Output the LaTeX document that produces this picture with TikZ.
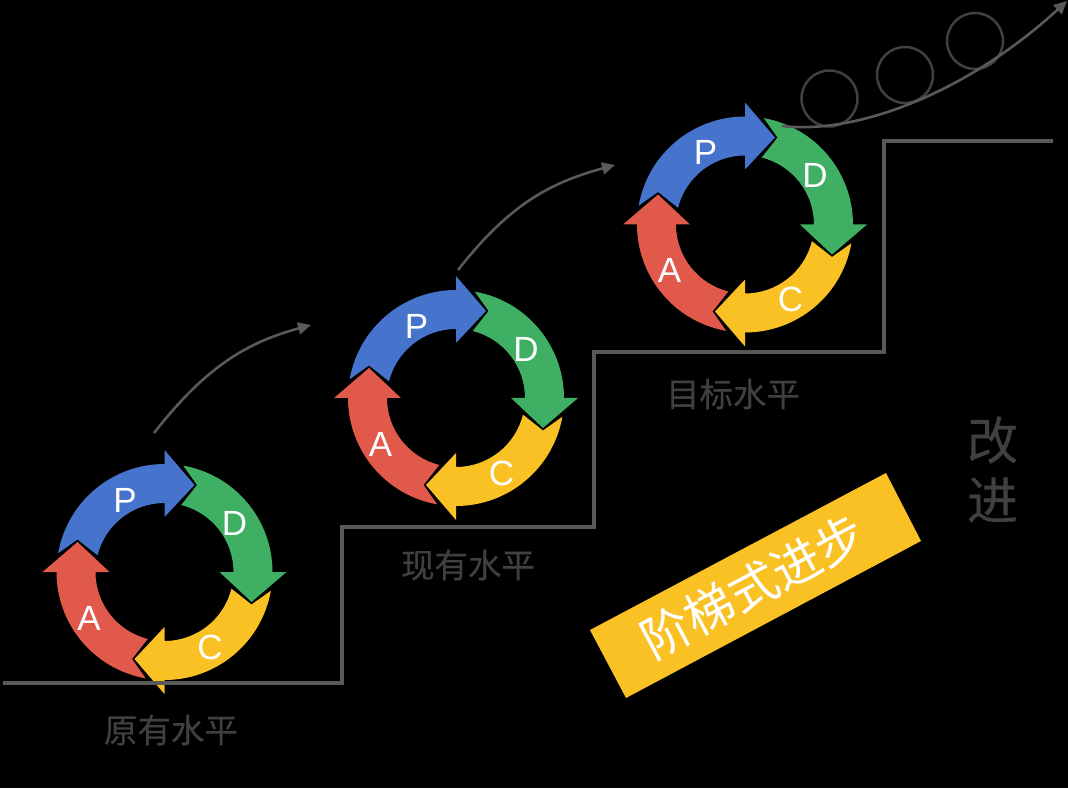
\documentclass[tikz,border=0pt]{standalone}
\usepackage{fontspec}
\setmainfont{Liberation Sans}
\newfontfamily\cjk{Noto Sans CJK SC}
\newfontfamily\cjkb[FakeBold=0.3]{Noto Sans CJK SC}
\usetikzlibrary{arrows.meta}
\definecolor{cblue}{HTML}{4673CC}
\definecolor{cgreen}{HTML}{3FAF64}
\definecolor{cyellow}{HTML}{F9C124}
\definecolor{cred}{HTML}{E0594A}
\definecolor{lgray}{HTML}{595959}
\definecolor{tgray}{HTML}{404040}
\tikzset{
  x=1pt,y=1pt,
  letter/.style={text=white,font=\fontsize{35}{35}\selectfont,inner sep=0pt},
  level/.style={text=tgray,font=\cjkb\fontsize{33.5}{33.5}\selectfont,inner sep=0pt},
  stairline/.style={draw=lgray,line width=3.8pt,line join=miter},
  flow/.style={draw=lgray,line width=2.6pt,-{Triangle[length=13pt,width=12pt]}},
  ball/.style={circle,draw=tgray,line width=2.5pt,minimum size=56pt,inner sep=0pt},
}
\newcommand{\ringarrow}[2]{%
  \fill[#2,rotate=#1]
    (170:108) arc[start angle=170,end angle=90,radius=108]
    -- (0,122) -- (30,87) -- (0,55) -- (0,69)
    arc[start angle=90,end angle=166,radius=69]
    -- (-87,32.5) -- cycle;}
\newcommand{\pdcaring}[3]{%
  \begin{scope}[shift={(#1,788-#2)}]
    \ringarrow{0}{cblue}
    \ringarrow{-90}{cgreen}
    \ringarrow{-180}{cyellow}
    \ringarrow{-270}{cred}
    \node[letter] (p#3) at (-39.5,72) {P};
    \node[letter] (d#3) at (70,49) {D};
    \node[letter] (c#3) at (45.5,-75) {C};
    \node[letter] (a#3) at (-75.5,-46) {A};
  \end{scope}}
\begin{document}
\begin{tikzpicture}
\fill[black] (0,0) rectangle (1068,788);
\useasboundingbox (0,0) rectangle (1068,788);
\pdcaring{164.5}{572}{1}
\pdcaring{456}{398}{2}
\pdcaring{745}{224.5}{3}
% stairs
\coordinate (s0) at (3,788-683);
\coordinate (s1) at (342,788-683);
\coordinate (s2) at (342,788-527);
\coordinate (s3) at (594,788-527);
\coordinate (s4) at (594,788-352);
\coordinate (s5) at (884,788-352);
\coordinate (s6) at (884,788-141);
\coordinate (s7) at (1053,788-141);
\draw[stairline] (s0) -- (s1) -- (s2) -- (s3) -- (s4) -- (s5) -- (s6) -- (s7);
% flows
\coordinate (f1a) at (154,788-433);
\coordinate (f1b) at (311,788-325);
\coordinate (f2a) at (458,788-270);
\coordinate (f2b) at (615,788-165);
\coordinate (f3a) at (782,788-126);
\coordinate (f3b) at (1067,788-1);
\draw[flow] (f1a) .. controls (205,788-368) and (245,788-343) .. (f1b);
\draw[flow] (f2a) .. controls (509,788-205) and (549,788-183) .. (f2b);
% balls
\node[ball] (b1) at (829.5,788-98.5) {};
\node[ball] (b2) at (905,788-75) {};
\node[ball] (b3) at (975,788-41) {};
\draw[flow] (f3a) .. controls (860,788-135) and (970,788-90) .. (f3b);
% labels
\node[level] (t1) at (171,788-730) {原有水平};
\node[level] (t2) at (468,788-565) {现有水平};
\node[level] (t3) at (733,788-394) {目标水平};
\node[text=tgray,font=\cjkb\fontsize{51}{51}\selectfont,inner sep=0pt] (g1) at (992.5,788-440) {改};
\node[text=tgray,font=\cjkb\fontsize{51}{51}\selectfont,inner sep=0pt] (g2) at (992.5,788-500) {进};
% banner
\fill[cyellow] (590,788-630) -- (886,788-473) -- (921,788-541) -- (626,788-698) -- cycle;
\node[text=white,font=\cjk\fontsize{49}{49}\selectfont,inner sep=0pt,rotate=28] (banner) at (753,788-587) {阶梯式进步};
\end{tikzpicture}
\end{document}
